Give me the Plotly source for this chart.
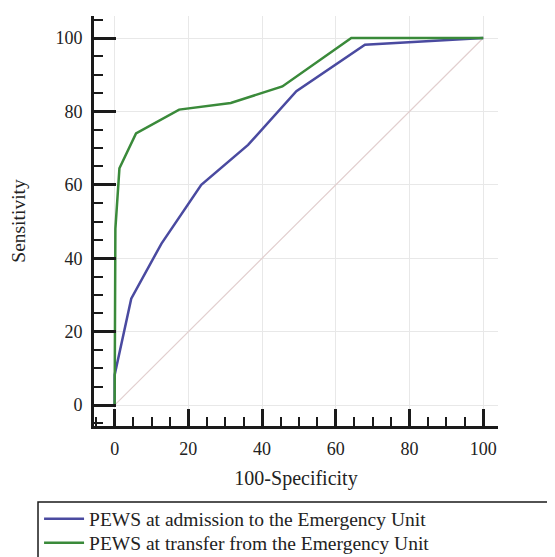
import plotly.graph_objects as go

# ROC curve data
adm_x = [0, 0, 4.5, 12.7, 23.5, 36.2, 49.3, 67.9, 100]
adm_y = [0, 8.2, 29, 44, 60, 70.9, 85.5, 98.2, 100]
trans_x = [0, 0.2, 1.3, 5.8, 17.5, 23.5, 31.5, 45.5, 64.2, 100]
trans_y = [0, 48, 64.5, 74, 80.5, 81.3, 82.3, 86.8, 100, 100]
diag_x = [0, 100]
diag_y = [0, 100]
names = ["PEWS at admission to the Emergency Unit",
         "PEWS at transfer from the Emergency Unit"]
tick_vals = [0, 20, 40, 60, 80, 100]

FONT = "Liberation Serif, Times New Roman, serif"

fig = go.Figure()
fig.add_trace(go.Scatter(x=diag_x, y=diag_y, mode="lines",
                         line=dict(color="#e2cfcf", width=1.2),
                         showlegend=False, hoverinfo="skip"))
fig.add_trace(go.Scatter(x=adm_x, y=adm_y, mode="lines", name=names[0],
                         line=dict(color="#4a4aa0", width=2.5), legend="legend"))
fig.add_trace(go.Scatter(x=trans_x, y=trans_y, mode="lines", name=names[1],
                         line=dict(color="#3a8a3a", width=2.5), legend="legend2"))

axis_common = dict(
    tickvals=tick_vals,
    showgrid=True, gridcolor="#e8e8e8", gridwidth=1,
    zeroline=False,
    showline=True, linecolor="#1a1a1a", linewidth=3,
    ticks="inside", tickcolor="#1a1a1a", tickwidth=2.5,
    tickfont=dict(family=FONT, size=18, color="#222"),
    minor=dict(dtick=5, tick0=0, ticks="inside", ticklen=9,
               tickwidth=2, tickcolor="#1a1a1a", showgrid=False),
    automargin=False,
)

leg_common = dict(xanchor="left", yanchor="middle", x=-0.136,
                  borderwidth=0, bgcolor="rgba(0,0,0,0)",
                  font=dict(family=FONT, size=19.5, color="#222"),
                  itemwidth=40)

fig.update_layout(
    width=555, height=557,
    margin=dict(l=86, r=65, t=8, b=139, autoexpand=False),
    paper_bgcolor="white", plot_bgcolor="white",
    font=dict(family=FONT, color="#222"),
    xaxis=dict(range=[-5.6, 104], ticklen=17, ticklabelstandoff=4,
               title=dict(text="100-Specificity", font=dict(family=FONT, size=20),
                          standoff=14),
               **axis_common),
    yaxis=dict(range=[-5.7, 106], ticklen=22, ticklabelstandoff=5,
               title=dict(text="Sensitivity", font=dict(family=FONT, size=19.5),
                          standoff=25),
               **axis_common),
    legend=dict(y=-0.2268, **leg_common),
    legend2=dict(y=-0.2854, **leg_common),
    showlegend=True,
    shapes=[dict(type="rect", xref="paper", yref="paper",
                 x0=-0.1386, x1=1.2, y0=-0.1854, y1=-0.40,
                 line=dict(color="#1a1a1a", width=1.5),
                 fillcolor="rgba(0,0,0,0)", layer="below")],
)

fig.write_html("out.html")
